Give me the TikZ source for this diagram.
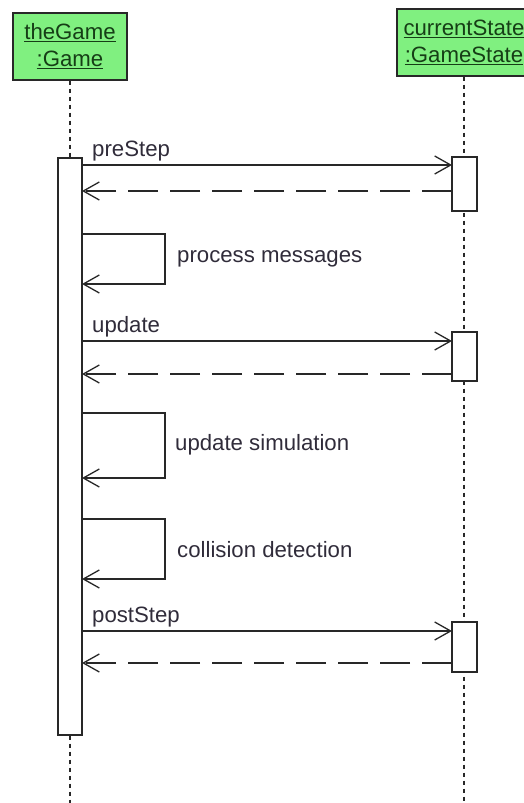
\documentclass[tikz,border=0pt]{standalone}
\usepackage{fontspec}
\setmainfont{Liberation Sans}
\usetikzlibrary{arrows.meta}

\definecolor{headfill}{RGB}{128,240,128}
\definecolor{headtext}{RGB}{22,62,22}
\definecolor{labeltext}{RGB}{48,44,58}
\definecolor{linecol}{RGB}{40,40,40}

\tikzset{
  x=1pt, y=-1pt,
  every node/.style={font=\fontsize{22.2}{27}\selectfont},
  objhead/.style={draw=linecol, line width=1.4pt, fill=headfill, text=headtext,
    align=center, inner sep=0pt},
  lifeline/.style={draw=linecol, line width=1.5pt, dash pattern=on 4pt off 4pt},
  actbar/.style={draw=linecol, line width=1.3pt, fill=white, inner sep=0pt},
  callmsg/.style={draw=linecol, line width=1.3pt,
    -{Straight Barb[length=16pt,width=18pt]}},
  retmsg/.style={draw=linecol, line width=1.3pt, dash pattern=on 30pt off 12pt,
    -{Straight Barb[length=16pt,width=18pt]}},
  selfmsg/.style={draw=linecol, line width=1.3pt,
    -{Straight Barb[length=16pt,width=18pt]}},
  msglabel/.style={text=labeltext, inner sep=0pt},
}

\begin{document}
\begin{tikzpicture}
\useasboundingbox (0,0) rectangle (523,803);

% object heads
\node[objhead, minimum width=114pt, minimum height=67pt] (game) at (70,46.5)
  {\underline{theGame}\\\underline{:Game}};
\node[objhead, minimum width=134pt, minimum height=67pt] (state) at (464,42.5)
  {\underline{currentState}\\\underline{:GameState}};

% lifeline ends
\coordinate (gameend) at (70,803);
\coordinate (stateend) at (464,803);

% activation bars
\node[actbar, minimum width=24pt, minimum height=577pt] (gbar) at (70,446.5) {};
\draw[lifeline] (game.south) -- (gbar.north);
\draw[lifeline] (gbar.south) -- (gameend);
\draw[lifeline] (state.south) -- (stateend);

\node[actbar, minimum width=25pt, minimum height=54pt] (sbar1) at (464.5,184) {};
\node[actbar, minimum width=25pt, minimum height=49pt] (sbar2) at (464.5,356.5) {};
\node[actbar, minimum width=25pt, minimum height=50pt] (sbar3) at (464.5,647) {};

% message end points
\coordinate (c1a) at (82,165);  \coordinate (c1b) at (452,165);
\coordinate (r1a) at (452,191); \coordinate (r1b) at (82,191);
\coordinate (c2a) at (82,341);  \coordinate (c2b) at (452,341);
\coordinate (r2a) at (452,374); \coordinate (r2b) at (82,374);
\coordinate (c3a) at (82,631);  \coordinate (c3b) at (452,631);
\coordinate (r3a) at (452,663); \coordinate (r3b) at (82,663);

% preStep
\draw[callmsg] (c1a) -- (c1b);
\draw[retmsg] (r1a) -- (r1b);
\node[msglabel, anchor=base west] (l1) at (92,156) {preStep};

% process messages
\coordinate (p1a) at (82,234); \coordinate (p1b) at (82,284);
\draw[selfmsg] (p1a) -- (165,234) -- (165,284) -- (p1b);
\node[msglabel, anchor=west] (l2) at (177,259) {process messages};

% update
\draw[callmsg] (c2a) -- (c2b);
\draw[retmsg] (r2a) -- (r2b);
\node[msglabel, anchor=base west] (l3) at (92,332) {update};

% update simulation
\coordinate (p2a) at (82,413); \coordinate (p2b) at (82,478);
\draw[selfmsg] (p2a) -- (165,413) -- (165,478) -- (p2b);
\node[msglabel, anchor=west] (l4) at (175,445) {update simulation};

% collision detection
\coordinate (p3a) at (82,519); \coordinate (p3b) at (82,579);
\draw[selfmsg] (p3a) -- (165,519) -- (165,579) -- (p3b);
\node[msglabel, anchor=west] (l5) at (177,550) {collision detection};

% postStep
\draw[callmsg] (c3a) -- (c3b);
\draw[retmsg] (r3a) -- (r3b);
\node[msglabel, anchor=base west] (l6) at (92,622) {postStep};
\end{tikzpicture}
\end{document}
